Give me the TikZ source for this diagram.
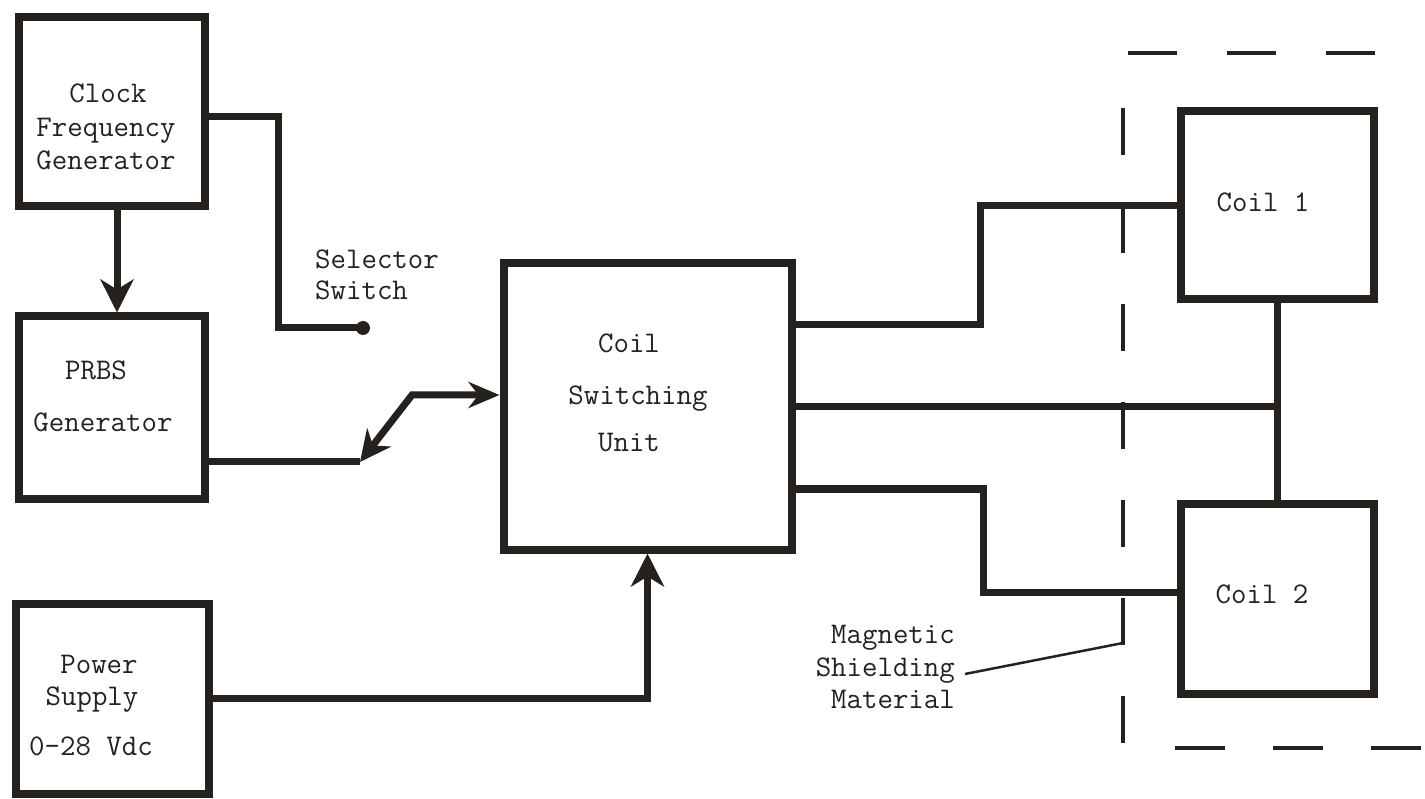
\documentclass[tikz,border=0pt]{standalone}
\usepackage{fontspec}
\usetikzlibrary{arrows.meta,calc}
\definecolor{ink}{RGB}{36,33,30}
\begin{document}
\begin{tikzpicture}[x=1pt,y=-1pt,
  box/.style={draw=ink, line width=8pt, inner sep=0pt},
  txt/.style={inner sep=0pt, font=\ttfamily\fontsize{30}{33}\selectfont, text=ink, anchor=base},
  conn/.style={draw=ink, line width=7pt},
  arr/.style={-{Stealth[length=33pt,width=33pt,inset=10pt]}},
  biarr/.style={{Stealth[length=31pt,width=30pt,inset=10pt]}-{Stealth[length=31pt,width=26pt,inset=10pt]}},
  shieldline/.style={draw=ink, line width=4.5pt},
  leader/.style={draw=ink, line width=2.5pt}]
\useasboundingbox (0,0) rectangle (1425,799);
\fill[white] (0,0) rectangle (1425,799);

% boxes
\node[box, minimum width=186pt, minimum height=189pt] (clock) at (111.5,112) {};
\node[box, minimum width=186pt, minimum height=182pt] (prbs) at (111.5,407.5) {};
\node[box, minimum width=193pt, minimum height=190pt] (power) at (112,698.5) {};
\node[box, minimum width=288pt, minimum height=286pt] (csu) at (647.5,406.5) {};
\node[box, minimum width=193pt, minimum height=188pt] (coil1) at (1277,205.5) {};
\node[box, minimum width=193pt, minimum height=190pt] (coil2) at (1277,598.5) {};

% texts
\node[txt] (tclockA) at (108,103) {Clock};
\node[txt] (tclockB) at (106,137) {Frequency};
\node[txt] (tclockC) at (106,170) {Generator};
\node[txt] (tprbsA) at (96,380) {PRBS};
\node[txt] (tprbsB) at (103,432) {Generator};
\node[txt] (tpowA) at (99,673) {Power};
\node[txt] (tpowB) at (92,705) {Supply};
\node[txt] (tpowC) at (91,755) {0-28 Vdc};
\node[txt] (tcsuA) at (629,353) {Coil};
\node[txt] (tcsuB) at (638,405) {Switching};
\node[txt] (tcsuC) at (629,452) {Unit};
\node[txt] (tcoil1) at (1263,212) {Coil 1};
\node[txt] (tcoil2) at (1262,603) {Coil 2};
\node[txt, anchor=base west] (tselA) at (315,269) {Selector};
\node[txt, anchor=base west] (tselB) at (315,300) {Switch};
\node[txt, anchor=base east] (tmagA) at (955,643) {Magnetic};
\node[txt, anchor=base east] (tmagB) at (955,676) {Shielding};
\node[txt, anchor=base east] (tmagC) at (955,708) {Material};

% coordinates
\coordinate (sw) at (363,328);
\coordinate (piv) at (360,462);
\coordinate (bend) at (412,395);
\coordinate (leadA) at (965,674);
\coordinate (leadB) at (1123,643);

% connectors
\draw[conn, arr] ([xshift=5.5pt]clock.south) -- ([xshift=5.5pt]prbs.north);
\draw[conn] ([yshift=-5pt]clock.east) -- ++(70,0) |- (sw);
\fill[ink] (sw) circle[radius=7pt];
\draw[conn] (prbs.east |- piv) -- (piv);
\draw[conn, biarr] (piv) -- (bend) -- (csu.west |- bend);
\draw[conn, arr] (power.east) -| (csu.south);
\draw[conn] ([yshift=81.5pt]csu.east) -- ++(185,0) |- (coil1.west);
\draw[conn] (csu.east) -- (csu.east -| coil1.south);
\draw[conn] (coil1.south) -- (coil2.north);
\draw[conn] ([yshift=-82.5pt]csu.east) -- ++(188,0) |- ([yshift=6.5pt]coil2.west);

% magnetic shielding
\draw[shieldline, dash pattern=on 47pt off 51pt] (1123,108) -- (1123,745);
\draw[shieldline, dash pattern=on 49pt off 50pt] (1128,53) -- (1425,53);
\draw[shieldline, dash pattern=on 50pt off 48pt] (1175,748) -- (1430,748);
\draw[leader] (leadA) -- (leadB);
\end{tikzpicture}
\end{document}
